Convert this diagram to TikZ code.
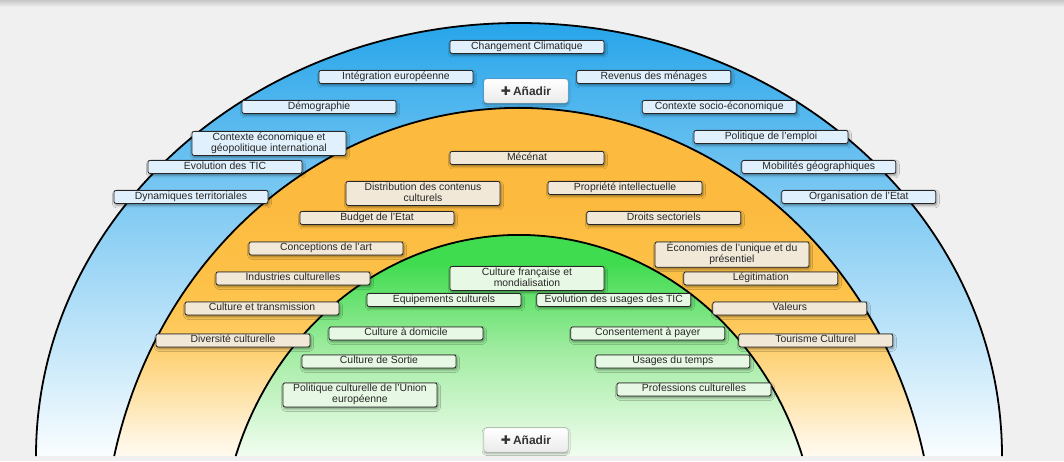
\documentclass[tikz,border=0pt]{standalone}
\usepackage{fontspec}
\setmainfont{Liberation Sans}
\newfontfamily\iconfont{DejaVu Sans}
\usepackage{xcolor}
\usetikzlibrary{positioning,shadows,shadows.blur}

\definecolor{pagebg}{HTML}{F0F0F0}
\definecolor{ringblue}{HTML}{27A5EA}
\definecolor{blueend}{HTML}{FAFDFF}
\definecolor{ringorange}{HTML}{FCBA3E}
\definecolor{orangeup}{HTML}{FDC249}
\definecolor{orangemid}{HTML}{FECC62}
\definecolor{orangelow}{HTML}{FEE2A6}
\definecolor{orangepale}{HTML}{FFF2D8}
\definecolor{orangeend}{HTML}{FFFAF0}
\definecolor{ringgreen}{HTML}{40DC4F}
\definecolor{greenmid}{HTML}{A2ECA2}
\definecolor{greenend}{HTML}{F2FDF0}
\definecolor{bluetagfill}{HTML}{E0F0FC}
\definecolor{orangetagfill}{HTML}{F1E8D8}
\definecolor{greentagfill}{HTML}{E7F9E4}

\pgfdeclareverticalshading{bluefade}{100bp}{color(0bp)=(blueend); color(25bp)=(blueend); color(75bp)=(ringblue); color(100bp)=(ringblue)}
\pgfdeclareverticalshading{orangefade}{100bp}{color(0bp)=(orangeend); color(25bp)=(orangeend); color(28bp)=(orangepale); color(33bp)=(orangelow); color(40bp)=(orangemid); color(46bp)=(orangeup); color(58bp)=(ringorange); color(100bp)=(ringorange)}
\pgfdeclareverticalshading{greenfade}{100bp}{color(0bp)=(greenend); color(25bp)=(greenend); color(45bp)=(greenmid); color(62bp)=(ringgreen); color(100bp)=(ringgreen)}

\begin{document}
\begin{tikzpicture}[x=1pt, y=-1pt,
        % Define tag style
        tag/.style={
        draw=black!85,
        line width=0.8pt,
        rounded corners=2pt,
        text width=150pt,
        align=flush center,
        inner xsep=2pt,
        inner ysep=1pt,
        anchor=north,
        text=black!85,
        font=\fontsize{10.4}{11}\selectfont,
        execute at begin node=\strut,
        execute at end node=\strut,
        blur shadow={shadow xshift=1pt, shadow yshift=-2pt, shadow blur radius=2.5pt}
        },
        bluetag/.style={tag, fill=bluetagfill},
        orangetag/.style={tag, fill=orangetagfill},
        greentag/.style={tag, fill=greentagfill},
        addbtn/.style={
        draw=black!20,
        rounded corners=3pt,
        top color=white,
        bottom color=black!8,
        minimum width=84pt,
        minimum height=24pt,
        text=black!80,
        font=\fontsize{12}{14}\selectfont\bfseries,
        blur shadow={shadow xshift=0pt, shadow yshift=-1.5pt, shadow blur radius=2pt}
        },
        ringline/.style={draw=black, line width=1.8pt}]
        \useasboundingbox (0,0) rectangle (1064,461);
        \fill[pagebg] (0,0) rectangle (1064,461);
        \shade[top color=black!22, bottom color=pagebg] (0,0) rectangle (1064,7);

        % Rings
        \shade[shading=bluefade] (36,456) arc[start angle=180, end angle=0, x radius=483pt, y radius=433pt] -- cycle;
        \draw[ringline] (36,456) arc[start angle=180, end angle=0, x radius=483pt, y radius=433pt];
        \shade[shading=orangefade] (114.2,456) arc[start angle=166.7, end angle=13.3, x radius=416pt, y radius=452pt] -- cycle;
        \draw[ringline] (114.2,456) arc[start angle=166.7, end angle=13.3, x radius=416pt, y radius=452pt];
        \shade[shading=greenfade] (235.7,456) arc[start angle=161.34, end angle=18.66, x radius=299pt, y radius=325pt] -- cycle;
        \draw[ringline] (235.7,456) arc[start angle=161.34, end angle=18.66, x radius=299pt, y radius=325pt];

        % Nodes
        \node[bluetag] (climat) at (527,40) {Changement Climatique};
        \node[bluetag] (integ) at (396,70) {Intégration européenne};
        \node[bluetag, right=103pt of integ] (revenus) {Revenus des ménages};
        \node[bluetag] (demo) at (319,100) {Démographie};
        \node[bluetag, right=245.5pt of demo] (socio) {Contexte socio-économique};
        \node[bluetag] (geopol) at (269,131) {Contexte économique et géopolitique international};
        \node[bluetag] (emploi) at (771,130) {Politique de l'emploi};
        \node[bluetag] (tic) at (225,160) {Evolution des TIC};
        \node[bluetag, right=439pt of tic] (mobil) {Mobilités géographiques};
        \node[bluetag] (territ) at (191,190) {Dynamiques territoriales};
        \node[bluetag, right=513pt of territ] (etat) {Organisation de l'Etat};

        \node[orangetag] (mecenat) at (527,151) {Mécénat};
        \node[orangetag] (distrib) at (423,181) {Distribution des contenus culturels};
        \node[orangetag] (propriete) at (625,181) {Propriété intellectuelle};
        \node[orangetag] (budget) at (377,211) {Budget de l'Etat};
        \node[orangetag, right=132pt of budget] (droits) {Droits sectoriels};
        \node[orangetag] (art) at (326,241.5) {Conceptions de l'art};
        \node[orangetag] (unique) at (732,241.5) {Économies de l'unique et du présentiel};
        \node[orangetag] (industries) at (293,271.5) {Industries culturelles};
        \node[orangetag, right=313pt of industries] (legit) {Légitimation};
        \node[orangetag] (transm) at (262,301.5) {Culture et transmission};
        \node[orangetag, right=373pt of transm] (valeurs) {Valeurs};
        \node[orangetag] (diversite) at (233,333.5) {Diversité culturelle};
        \node[orangetag, right=428pt of diversite] (tourisme) {Tourisme Culturel};

        \node[greentag] (mondial) at (527,266) {Culture française et mondialisation};
        \node[greentag] (equip) at (444,293) {Equipements culturels};
        \node[greentag, right=15pt of equip] (usagestic) {Evolution des usages des TIC};
        \node[greentag] (domicile) at (406,326.5) {Culture à domicile};
        \node[greentag, right=87pt of domicile] (payer) {Consentement à payer};
        \node[greentag] (sortie) at (379,354.5) {Culture de Sortie};
        \node[greentag, right=139pt of sortie] (temps) {Usages du temps};
        \node[greentag] (ue) at (360,382.5) {Politique culturelle de l'Union européenne};
        \node[greentag] (professions) at (694,382.5) {Professions culturelles};

        % Buttons
        \node[addbtn] (addtop) at (526,91) {{\iconfont ✚}\,Añadir};
        \node[addbtn] (addbottom) at (526,440) {{\iconfont ✚}\,Añadir};
    \end{tikzpicture}
\end{document}
